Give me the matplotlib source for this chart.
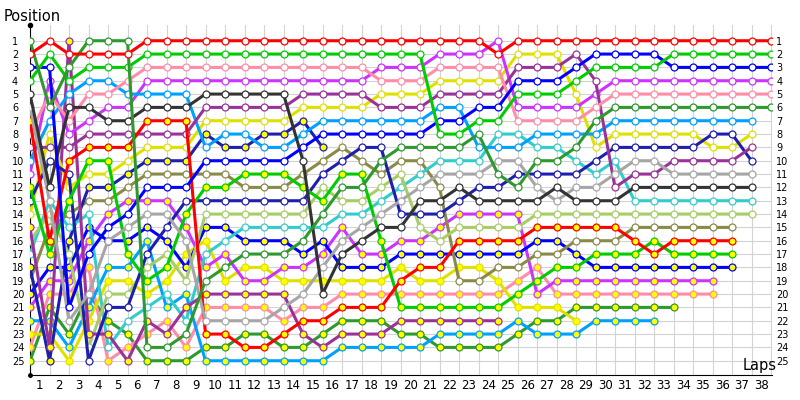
import numpy as np
import matplotlib.pyplot as plt

# Tours (0 = grille de départ) et libellés des axes
laps = list(range(39))
lap_labels = [str(k) for k in range(1, 39)]
pos_labels = [str(p) for p in range(1, 26)]

# Positions, une liste par pilote (None = abandon / tours en moins)
red = [2,1,2,2,2,2, 1,1,1,1,1,1,1,1,1,1,1,1,1,1,1,1,1,1, 2, 1,1,1,1,1,1,1,1,1,1,1,1,1,1]
green = [4,2,4,3,3,3, 2,2,2,2,2,2,2,2,2,2,2,2,2,2,2, 8,8,7,7,5,5,5,4,3,3,3,3, 2,2,2,2,2,2]
dkgreen = [1,6,3,1,1,1, 24,24,23,19,18,17,17,17,16,14,12,12,10,9,9,9,9,8,11,12,10,10,9,7, 6,6,6,6,6,6,6,6,6]
blue = [3,3,21,17,15,14, 12,12,12, 10,10,10,10,10, 9, 8,8,8,8,8,8, 7,7, 6,6, 4,4,4, 3, 2,2,2,2, 3,3,3,3,3,3]
black = [5,12,6,6,7,7, 6,6,6, 5,5,5,5,5, 10, 20, 17, 16, 15,15, 13,13, 12, 13,13,13,13, 12, 13,13,13, 12,12,12,12,12,12,12, None]
gray = [6,13,22,20,16,15, 14,14, 16, 22, 22,22,22, 21, 20, 18, 16, 15, 14, 13, 12, 11,11,11, 10,10, 12, 13, 12,12, 11, 10,10, 11,11,11,11,11, None]
red_y = [7,16,10,9,9,9, 7,7,7, 23,23, 24,24, 23, 22,22, 21,21,21, 19, 18,18, 16,16,16,16, 15,15,15,15,15, 16, 17, 16,16,16,16, None, None]
pink = [8,5,7,5,5,4, 3,3,3,3,3,3,3,3,3,3,3,3, 4,4,4, 3,3,3,3, 7,7,7,7, 6, 5,5,5,5,5,5,5,5,5]
purple = [9,9,9,8,8,8, 8,8,8, 6,6,6,6,6, 5,5,5,5, 6,6,6, 5,5,5,5, 3,3,3, 2, 4, 12, 11,11, 10,10,10,10, 9, None]
sky = [10,7,5,4,4,5, 5,5,5, 9, 8,8, 9,9, 8, 7,7,7,7,7,7, 6,6, 9,9,9, 8,8,8,8, 7,7,7,7,7,7,7,7, None]
violet = [11,4,8,7,6,6, 4,4,4,4,4,4,4,4,4,4,4,4, 3,3,3, 2,2,2, 1, 6,6,6,6, 5, 4,4,4,4,4,4,4,4,4]
green_y = [12,17,13,10,10,17, 19, 18, 14, 12,12, 11,11,11, 12, 13, 11,11, 16, 21,21,21,21,21,21, 20, 19, 18,18, 17,17,17, 16, 17,17,17,17, None, None]
navy = [13,10,11,25,21,21, 17, 15, 13, 13,13,13,13,13,13, 11, 10, 9,9, 14,14,14, 13, 12,12, 11,11,11,11, 10, 9,9,9,9,9, 8,8, 10, None]
yellow = [14,8,12,11,11,10, 9,9,9, 7,7,7,7,7, 6,6,6,6, 5,5,5, 4,4,4,4, 2,2,2, 5, 9, 8,8,8,8,8, 9,9, 8, None]
purple_y = [15,24,1,23,23,25, 22, 23, 21, 20,20,20,20,20, 23, 24, 23,23,23, 22,22,22,22,22,22,
            None,None,None,None,None,None,None,None,None,None,None,None,None,None]
ygreen = [16,14,17,24,20,20, 18, 17, 19, 14,14,14,14,14,14, 12, 13,13, 12, 11, 15, 16, 15,15,15,15, 14,14,14,14,14,14,14,14,14,14,14,14, None]
cyan = [17,13,15,14,24,22, 21, 20, 22, 17, 16, 15,15,15,15,15, 14,14, 13, 12, 11, 10,10,10, 8,8, 9,9, 10, 11, 10, 13,13,13,13,13,13,13, None]
navy_y = [18,25,16,12,12,11, 10,10,10, 8, 9,9, 8,8, 7, 9,
          None,None,None,None,None,None,None,None,None,None,None,None,None,None,None,None,None,None,None,None,None,None,None]
olive = [19,15,14,13,13,12, 11,11,11,11,11, 12,12,12, 11, 10, 9, 10, 11, 10,10, 12, 19,19, 18,18, 17,17, 16,16,16, 15,15,15,15,15,15, None, None]
blue_y = [20,18,18,15,16,16, 15, 16, 18, 15,15, 16,16,16, 17, 16, 18,18,18, 17,17,17,17,17,17,17, 16,16, 17, 18,18,18,18,18,18,18,18, None, None]
violet_y = [21,19,19,16,14,13, 13,13, 15, 18, 17, 19,19, 18,18, 17, 15, 17,17, 16,16, 15, 14,14,14,14, 20, 19,19,19,19,19,19,19,19,19, None,None,None]
sky_y = [22,22,24,21,18,18, 16, 21, 20, 25,25,25,25,25,25,25, 24,24,24,24,24, 23,23,23,23, 22, 23,23,23, 22,22,22,22,
         None,None,None,None,None,None]
yellow_y = [23,23,25,22,19,19, 20, 19, 17, 16, 19, 18,18, 19,19,19,19,19,19, 18, 19,19, 18,18, 19, 21,21,21, 22,
            None,None,None,None,None,None,None,None,None,None]
pink_y = [24,20,20,18,25,24, 23, 22, 24, 21,21,21,21, 22, 21,21, 20,20,20,20,20,20,20,20,20, 19, 18, 20,20,20,20,20,20,20,20,20, None,None,None]
dkgreen_y = [25,21,23,20,22,23, 25,25,25, 24,24, 23,23, 24,24, 23, 22,22,22, 23,23, 24,24,24,24, 23, 22,22, 21,21,21,21,21,21,
             None,None,None,None,None]

# Style de chaque pilote : (données, couleur, marqueur rempli en jaune ?)
series = [
    (dkgreen_y, "#2e992e", True),
    (pink_y, "#ff8ca8", True),
    (yellow_y, "#e0e000", True),
    (sky_y, "#00a0ff", True),
    (violet_y, "#cc33ff", True),
    (blue_y, "#0000ff", True),
    (olive, "#8a8a48", False),
    (navy_y, "#1f1fad", True),
    (cyan, "#33cccc", False),
    (ygreen, "#a8cc66", False),
    (purple_y, "#993399", True),
    (yellow, "#e0e000", False),
    (navy, "#1f1fad", False),
    (green_y, "#00cc00", True),
    (violet, "#cc33ff", False),
    (sky, "#00a0ff", False),
    (purple, "#993399", False),
    (pink, "#ff8ca8", False),
    (red_y, "#ff0000", True),
    (gray, "#a6a6a6", False),
    (black, "#333333", False),
    (blue, "#0000ff", False),
    (green, "#00cc00", False),
    (dkgreen, "#2e992e", False),
    (red, "#ff0000", False),
]

fig = plt.figure(figsize=(8, 4), dpi=100)
ax = fig.add_axes([30/800, 25/400, 742/800, 350/400])
ax.set_xlim(0, 742/19.5)
ax.set_ylim(26.07, -0.18)

for z, (vals, col, filled) in enumerate(series):
    y = np.array([np.nan if v is None else v for v in vals], dtype=float)
    ax.plot(laps, y, "-o", color=col, lw=2.2, ms=5,
            mfc="#ffff00" if filled else "white", mec=col, mew=0.9,
            solid_joinstyle="miter", zorder=3 + z)

# grille et axes
ax.set_xticks(range(39))
ax.set_xticklabels([])
ax.set_xticks(np.arange(0.5, 38), minor=True)
ax.set_xticklabels(lap_labels, minor=True, fontsize=8.5)
ax.set_yticks(range(1, 26))
ax.set_yticklabels(pos_labels, fontsize=7)
for lbl in ax.get_yticklabels():
    lbl.set_horizontalalignment("left")
ax.tick_params(axis="x", which="both", length=0, pad=3)
ax.tick_params(axis="y", length=0, pad=13)
ax.grid(True, which="major", color="#d3d3d3", lw=0.8)
ax.set_axisbelow(True)

for s in ("top", "right"):
    ax.spines[s].set_visible(False)
ax.spines["left"].set_color("black")
ax.spines["bottom"].set_color("black")

sec = ax.secondary_yaxis("right")
sec.set_yticks(range(1, 26))
sec.set_yticklabels(pos_labels, fontsize=7)
sec.tick_params(length=0, pad=3)
sec.spines["right"].set_visible(False)

ax.plot([0], [-0.18], "o", color="black", ms=3, clip_on=False, zorder=40)
ax.plot([0], [26.07], "o", color="black", ms=2.5, clip_on=False, zorder=40)

fig.text(4/800, 1 - 21/400, "Position", fontsize=10.5, va="baseline")
fig.text(743/800, 1 - 370/400, "Laps", fontsize=10.5, va="baseline")

fig.savefig("out.png", dpi=100)
